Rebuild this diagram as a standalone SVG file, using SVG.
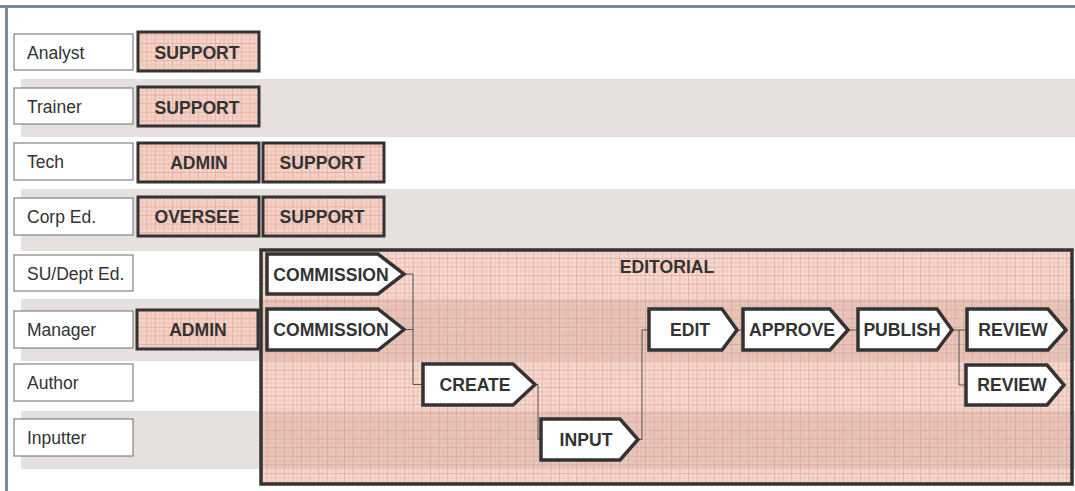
<svg xmlns="http://www.w3.org/2000/svg" width="1075" height="491" viewBox="0 0 1075 491">
<style>
.band{fill:#e6e1de}
.lbl{fill:#fff;stroke:#6a6a6a;stroke-width:1}
.lt{font-family:"Liberation Sans",Arial,sans-serif;font-size:17.5px;fill:#333}
.rb{fill:#f4d3c9}
.rg{fill:url(#grid);stroke:#333;stroke-width:3}
.bt{font-family:"Liberation Sans",Arial,sans-serif;font-size:17.6px;font-weight:bold;fill:#333;text-anchor:middle}
.fn{fill:#fff;stroke:#333;stroke-width:3.5;stroke-linejoin:miter}
.cn{fill:none;stroke:#555;stroke-width:1}
</style>
<defs>
<pattern id="grid" width="8.6" height="8.6" patternUnits="userSpaceOnUse">
<path d="M0 0.5H8.6M0.5 0V8.6" stroke="#dc8e7a" stroke-width="1" opacity="0.5"/>
<path d="M0 4.8H8.6M4.8 0V8.6" stroke="#e3a593" stroke-width="1" opacity="0.35"/>
</pattern>
</defs>
<rect width="1075" height="491" fill="#fff"/>
<g id="bands">
<rect class="band" x="21" y="79" width="1054" height="58"/>
<rect class="band" x="21" y="189" width="1054" height="62"/>
<rect class="band" x="21" y="299" width="1054" height="62"/>
<rect class="band" x="21" y="411" width="1054" height="58"/>
</g>
<g id="frame">
<rect x="0" y="5" width="1075" height="3" fill="#7b8a99"/>
<rect x="5" y="5" width="3" height="486" fill="#7b8a99"/>
</g>
<g id="editorial">
<rect x="261" y="250" width="811" height="234" fill="rgb(234,165,146)" fill-opacity="0.42"/>
<rect x="261" y="250" width="811" height="234" fill="url(#grid)" stroke="#333" stroke-width="3.5"/>
<text class="bt" x="667" y="273">EDITORIAL</text>
</g>
<g id="row-analyst"><rect class="lbl" x="14" y="34" width="119" height="36"/><text class="lt" x="27" y="59">Analyst</text></g>
<g id="row-trainer"><rect class="lbl" x="14" y="88" width="119" height="36"/><text class="lt" x="27" y="113">Trainer</text></g>
<g id="row-tech"><rect class="lbl" x="14" y="143" width="119" height="37"/><text class="lt" x="27" y="168">Tech</text></g>
<g id="row-corped"><rect class="lbl" x="14" y="198" width="119" height="37"/><text class="lt" x="27" y="223">Corp Ed.</text></g>
<g id="row-sudept"><rect class="lbl" x="14" y="255" width="119" height="36"/><text class="lt" x="27" y="280">SU/Dept Ed.</text></g>
<g id="row-manager"><rect class="lbl" x="14" y="311" width="119" height="37"/><text class="lt" x="27" y="336">Manager</text></g>
<g id="row-author"><rect class="lbl" x="14" y="364" width="119" height="37"/><text class="lt" x="27" y="389">Author</text></g>
<g id="row-inputter"><rect class="lbl" x="14" y="419" width="119" height="37"/><text class="lt" x="27" y="444">Inputter</text></g>
<g id="analyst-support"><rect class="rb" x="138" y="32" width="121" height="39"/><rect class="rg" x="138" y="32" width="121" height="39"/><text class="bt" x="197" y="59">SUPPORT</text></g>
<g id="trainer-support"><rect class="rb" x="138" y="87" width="121" height="39"/><rect class="rg" x="138" y="87" width="121" height="39"/><text class="bt" x="197" y="114">SUPPORT</text></g>
<g id="tech-admin"><rect class="rb" x="138" y="143" width="121" height="39"/><rect class="rg" x="138" y="143" width="121" height="39"/><text class="bt" x="199" y="169">ADMIN</text></g>
<g id="tech-support"><rect class="rb" x="263" y="143" width="121" height="39"/><rect class="rg" x="263" y="143" width="121" height="39"/><text class="bt" x="322" y="169">SUPPORT</text></g>
<g id="corped-oversee"><rect class="rb" x="138" y="197" width="121" height="39"/><rect class="rg" x="138" y="197" width="121" height="39"/><text class="bt" x="197" y="223">OVERSEE</text></g>
<g id="corped-support"><rect class="rb" x="263" y="197" width="121" height="39"/><rect class="rg" x="263" y="197" width="121" height="39"/><text class="bt" x="322" y="223">SUPPORT</text></g>
<g id="manager-admin"><rect class="rb" x="137" y="310" width="121" height="39"/><rect class="rg" x="137" y="310" width="121" height="39"/><text class="bt" x="198" y="336">ADMIN</text></g>
<g id="connectors">
<path class="cn" d="M404 274H413V384.5H423"/>
<path class="cn" d="M404 329.5H413"/>
<path class="cn" d="M535 384.5H538V439.5H541"/>
<path class="cn" d="M638 439.5H642V330H649"/>
<path class="cn" d="M737 330H743"/>
<path class="cn" d="M848 330H858"/>
<path class="cn" d="M952 330H967"/>
<path class="cn" d="M959 330V385H966"/>
</g>
<g id="commission-1"><path class="fn" d="M267 254H378L404 274L378 294H267Z"/><text class="bt" x="331" y="281">COMMISSION</text></g>
<g id="commission-2"><path class="fn" d="M267 309H378L404 329.5L378 350H267Z"/><text class="bt" x="331" y="336">COMMISSION</text></g>
<g id="create"><path class="fn" d="M423 364H513L535 384.5L513 405H423Z"/><text class="bt" x="475" y="391">CREATE</text></g>
<g id="input"><path class="fn" d="M541 419H620L638 439.5L620 460H541Z"/><text class="bt" x="586" y="446">INPUT</text></g>
<g id="edit"><path class="fn" d="M649 309H722L737 330L722 350H649Z"/><text class="bt" x="690" y="336">EDIT</text></g>
<g id="approve"><path class="fn" d="M743 309H830L848 330L830 350H743Z"/><text class="bt" x="792" y="336">APPROVE</text></g>
<g id="publish"><path class="fn" d="M858 309H937L952 330L937 350H858Z"/><text class="bt" x="902" y="336">PUBLISH</text></g>
<g id="review-1"><path class="fn" d="M967 309H1048L1066 330L1048 350H967Z"/><text class="bt" x="1013" y="336">REVIEW</text></g>
<g id="review-2"><path class="fn" d="M966 365H1047L1064 385L1047 405H966Z"/><text class="bt" x="1012" y="391">REVIEW</text></g>
</svg>
